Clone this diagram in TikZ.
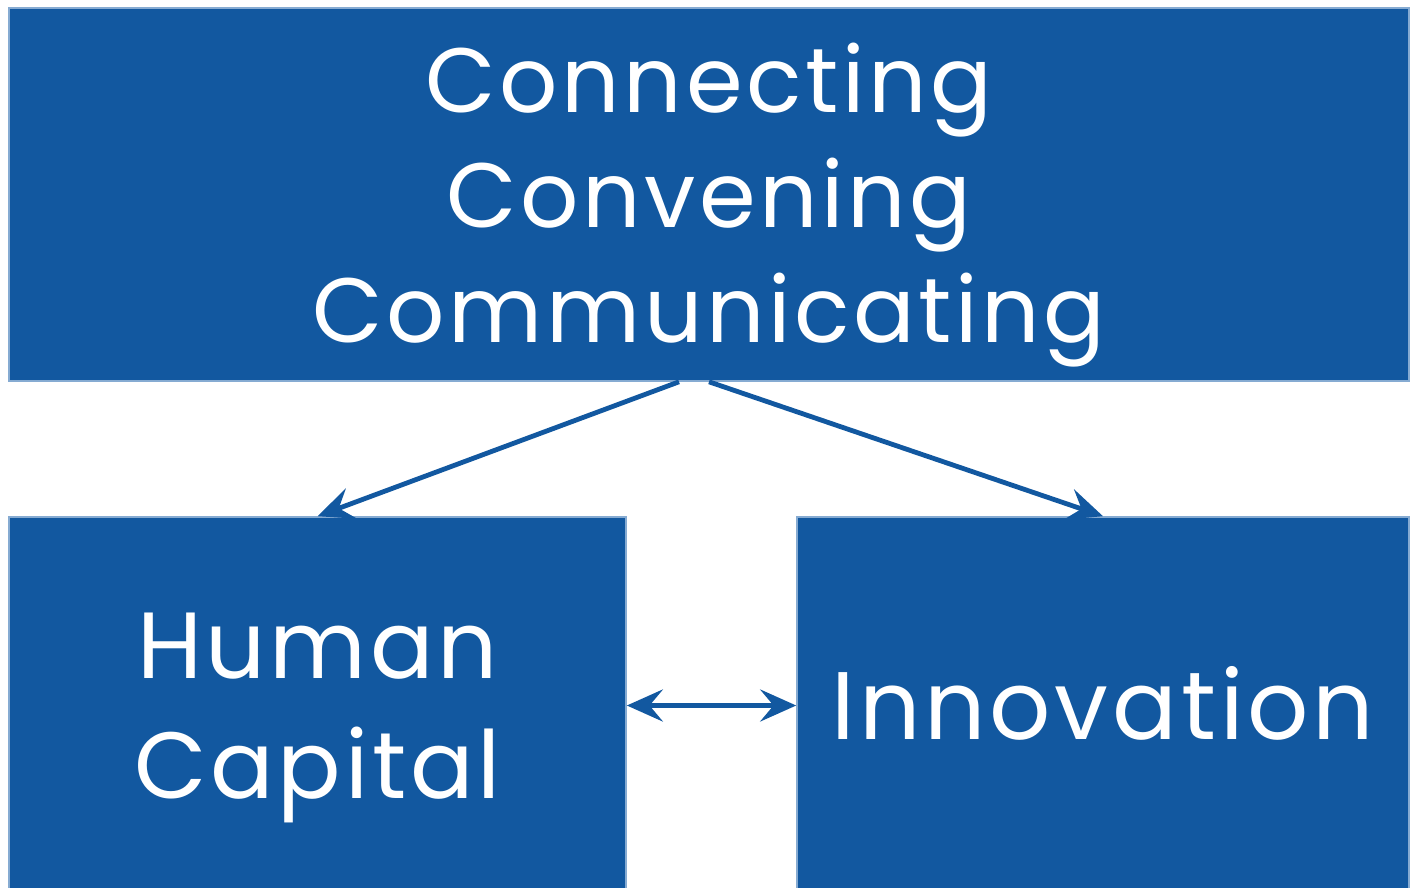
\documentclass[tikz,border=0pt]{standalone}
\usepackage{fontspec}
\setmainfont{Poppins}[LetterSpace=4]
\usetikzlibrary{arrows.meta}
\definecolor{boxblue}{RGB}{18,88,160}
\definecolor{boxedge}{RGB}{134,171,210}
\tikzset{%
  tip/.tip = {Stealth[length=27pt,width=24pt,inset=10pt]},
            base/.style = {rectangle, draw=boxedge, line width=1.2pt,
                           fill=boxblue, inner sep=0pt},
  box0/.style = {base, minimum width=1050pt, minimum height=279.75pt},
  box1/.style = {base, minimum width=462.75pt, minimum height=287.25pt},
  box2/.style = {base, minimum width=459pt, minimum height=287.25pt},
  word/.style = {text=white, align=center, inner sep=0pt},
  link/.style = {draw=boxblue, line width=3.6pt},
}
\begin{document}
\begin{tikzpicture}[node distance=385.5pt]
  \useasboundingbox (0,0) rectangle (1059.75pt,-666pt);

  \node (onTop)    [box0] at (531.75pt,-145.875pt)      {};
  \node (onHuman)  [box1, below of=onTop, xshift=-293.6pt] {};
  \node (onInnov)  [box2, below of=onTop, xshift= 295.5pt] {};

  \node (txTop)   [word, font=\fontsize{68.5}{86}\selectfont, yshift=-8pt] at (onTop)
    {Connecting\\Convening\\Communicating};
  \node (txHuman) [word, font=\fontsize{70.5}{90}\selectfont, yshift=-7pt] at (onHuman)
    {Human\\Capital};
  \node (txInnov) [word, font=\fontsize{72}{90}\selectfont, yshift=3.5pt] at (onInnov)
    {Innovation};

  \draw[-tip, link]    ([xshift=-22.5pt]onTop.south) -- (onHuman.north);
  \draw[-tip, link]    (onTop.south) -- (onInnov.north);
  \draw[tip-tip, link] ([yshift=2.25pt]onHuman.east) -- ([yshift=2.25pt]onInnov.west);
\end{tikzpicture}
\end{document}
